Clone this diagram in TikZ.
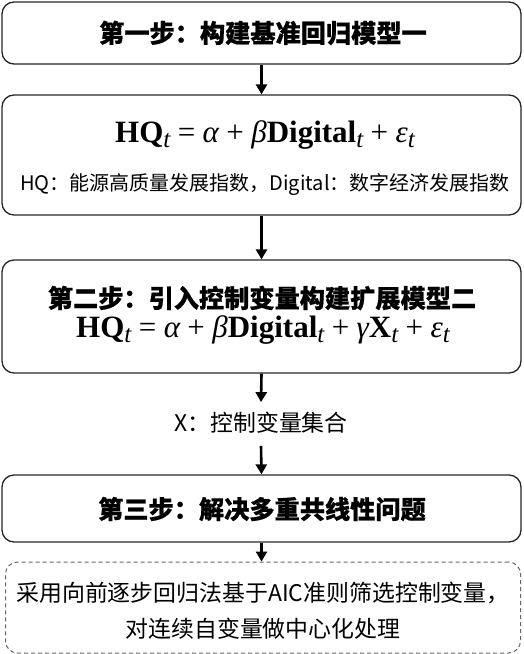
\documentclass[tikz,border=0pt]{standalone}
\usepackage{fontspec}
\usepackage{graphicx}
\newfontfamily\cjk{Noto Sans CJK SC}[BoldFeatures={FakeBold=0.6}]
\newfontfamily\eqfont{Liberation Serif}
\usetikzlibrary{arrows.meta}
\tikzset{
  stepbox/.style={draw=black!85, line width=1.3pt, rounded corners=12pt, minimum width=519pt, inner sep=0pt},
  notebox/.style={draw=black!60, line width=1pt, dash pattern=on 4pt off 3pt, rounded corners=12pt, minimum width=515pt, inner sep=0pt},
  titletext/.style={font=\cjk\bfseries\fontsize{25.2}{28}\selectfont, inner sep=0pt},
  bodytext/.style={font=\cjk\fontsize{22.9}{36}\selectfont, inner sep=0pt, align=center},
  formula/.style={inner sep=0pt, anchor=base},
  flow/.style={line width=2.6pt, -{Triangle[width=11pt,length=10pt]}}
}
\newcommand{\bT}[1]{{\bfseries #1}}
\newcommand{\iT}[1]{{\itshape #1}}
\newcommand{\subT}{\raisebox{-0.18em}{\fontsize{25}{25}\selectfont\itshape t}}
\newcommand{\opT}[1]{\hspace{0.24em}#1\hspace{0.24em}}
\newsavebox{\eqAbox}
\newsavebox{\eqBbox}
\newsavebox{\noteAbox}
\begin{document}
\sbox{\eqAbox}{\eqfont\fontsize{31}{36}\selectfont\bT{HQ}\subT\opT{=}\iT{α}\opT{+}\iT{β}\bT{Digital}\subT\opT{+}\iT{ε}\subT}%
\sbox{\eqBbox}{\eqfont\fontsize{31}{36}\selectfont\bT{HQ}\subT\opT{=}\iT{α}\opT{+}\iT{β}\bT{Digital}\subT\opT{+}\iT{γ}\bT{X}\subT\opT{+}\iT{ε}\subT}%
\sbox{\noteAbox}{\resizebox{490pt}{!}{\cjk\fontsize{22.9}{30}\selectfont HQ：能源高质量发展指数，Digital：数字经济发展指数}}%
\begin{tikzpicture}[x=1pt,y=1pt]
\useasboundingbox (0,0) rectangle (523,-654);
\node[stepbox, minimum height=62pt] (b1) at (261.5,-33) {};
\node[titletext] (t1) at (263,-33) {第一步：构建基准回归模型一};
\node[stepbox, minimum height=120pt] (b2) at (261.5,-155) {};
\node[formula] (e1) at (265,-142) {\usebox{\eqAbox}};
\node[inner sep=0pt] (d1) at (265,-185) {\usebox{\noteAbox}};
\node[stepbox, minimum height=113pt] (b3) at (261.5,-316.5) {};
\node[titletext] (t3) at (262,-298) {第二步：引入控制变量构建扩展模型二};
\node[formula] (e2) at (263,-337) {\usebox{\eqBbox}};
\node[bodytext] (xn) at (261,-423) {X：控制变量集合};
\node[stepbox, minimum height=67pt] (b4) at (261.5,-508.5) {};
\node[titletext] (t4) at (262,-509) {第三步：解决多重共线性问题};
\node[notebox, minimum height=91pt] (b5) at (263,-607.5) {};
\node[bodytext] (d5) at (263,-611) {采用向前逐步回归法基于AIC准则筛选控制变量，\\对连续自变量做中心化处理};
\draw[flow] (b1.south) -- (b2.north);
\draw[flow] (b2.south) -- (b3.north);
\draw[flow] (b3.south) -- ([yshift=10pt]xn.north);
\draw[flow] ([yshift=-12pt]xn.south) -- (b4.north);
\draw[flow] (b4.south) -- (b5.north -| b4.south);
\end{tikzpicture}
\end{document}
